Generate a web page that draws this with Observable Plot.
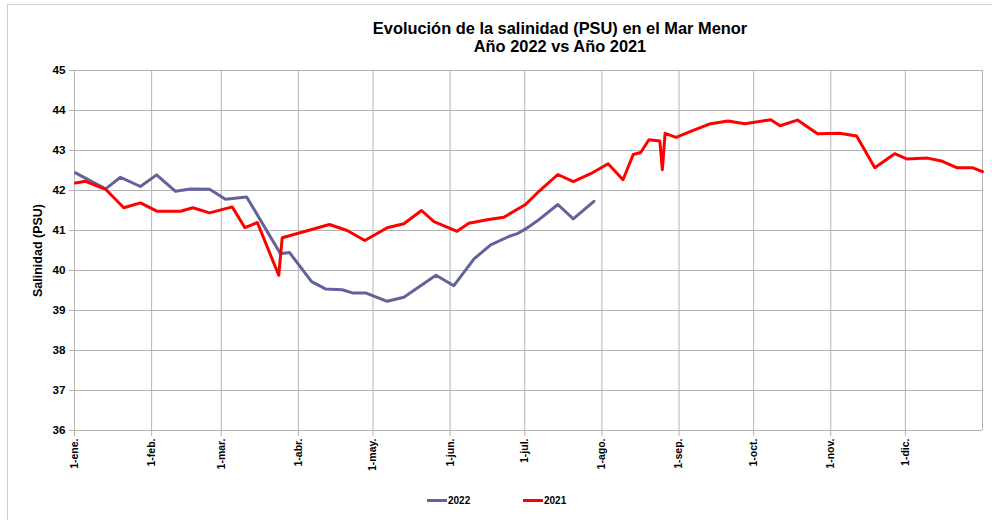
<!DOCTYPE html>
<html><head><meta charset="utf-8">
<script src="https://cdn.jsdelivr.net/npm/d3@7"></script>
<script src="https://cdn.jsdelivr.net/npm/@observablehq/plot@0.6"></script>
<style>
body{margin:0;background:#fff;font-family:"Liberation Sans",Arial,sans-serif;}
#wrap{position:relative;width:992px;height:520px;overflow:hidden;}
#frame{position:absolute;left:7px;top:4px;width:1000px;height:530px;border:1px solid #cfcfcf;box-sizing:border-box;pointer-events:none}
#title{height:62px;box-sizing:border-box;padding-top:19px;padding-left:128px;text-align:center;font-weight:bold;font-size:16.4px;line-height:18px;color:#000}
#chart svg{display:block}
.leg{position:absolute;top:493px;font-size:10px;font-weight:bold;color:#000;display:flex;align-items:center;height:14px}
.leg i{display:inline-block;width:20px;height:3px;margin-right:1px}
</style></head>
<body>
<div id="wrap">
<div id="frame"></div>
<div id="title">Evolución de la salinidad (PSU) en el Mar Menor<br>Año 2022 vs Año 2021</div>
<div id="chart"></div>
<div class="leg" style="left:427px"><i style="background:#62629c"></i>2022</div>
<div class="leg" style="left:523px"><i style="background:#ff0000"></i>2021</div>
</div>
<script>
const monthDays = [0,31,59,90,120,151,181,212,243,273,304,334];
const monthLabels = ["1-ene.","1-feb.","1-mar.","1-abr.","1-may.","1-jun.","1-jul.","1-ago.","1-sep.","1-oct.","1-nov.","1-dic."];
const yTicks = [36,37,38,39,40,41,42,43,44,45];

const days2022 = [0.4,12.5,18.5,26.5,33,40.6,46.6,54.3,60.7,69.2,82.8,86.4,95.3,100.9,107.6,111.7,117,125.7,132.4,145.3,152.5,160.6,167.3,174.6,178,181.3,186.7,194.3,200.5,208.8];
const sal2022 = [42.44,42.04,42.33,42.1,42.39,41.98,42.04,42.03,41.78,41.84,40.42,40.45,39.72,39.54,39.52,39.44,39.44,39.23,39.33,39.88,39.62,40.29,40.64,40.85,40.92,41.04,41.27,41.65,41.29,41.73];

const days2021 = [0.4,4.4,12.5,19.8,26.5,33.3,42.6,47.6,54.3,63.4,68.5,73.5,82.1,83.5,102.5,109.6,116.7,125.7,132.4,139.5,144.5,153.8,158.5,165.9,172.6,181.3,186.7,194.3,200.5,207.5,214.5,220.5,224.6,227.6,230.9,235.3,236.3,237.4,241.8,247.7,255.7,262.7,269.5,279.9,283.6,290.6,298.7,307.6,314.4,321.7,329.7,334.5,342.9,348.9,354.6,360.9,365];
const sal2021 = [42.19,42.23,42.03,41.57,41.69,41.48,41.48,41.57,41.44,41.59,41.07,41.2,39.88,40.82,41.15,41.0,40.75,41.07,41.17,41.5,41.22,40.98,41.18,41.27,41.33,41.65,41.98,42.4,42.22,42.42,42.67,42.27,42.9,42.95,43.27,43.24,42.52,43.43,43.33,43.48,43.67,43.74,43.67,43.77,43.62,43.76,43.42,43.43,43.36,42.57,42.92,42.79,42.81,42.73,42.57,42.57,42.47];

const data2022 = days2022.map((d,i)=>({day:d, v:sal2022[i]}));
const data2021 = days2021.map((d,i)=>({day:d, v:sal2021[i]}));

const chart = Plot.plot({
  width: 992, height: 418,
  marginTop: 8, marginBottom: 50, marginLeft: 74, marginRight: 10,
  style: {fontFamily: "Liberation Sans, Arial, sans-serif", fontSize: "11px", fontWeight: "bold", color: "#000", background: "transparent"},
  x: {domain: [0, 365]},
  y: {domain: [36, 45]},
  marks: [
    Plot.gridY(yTicks, {stroke: "#b4b4b4", strokeOpacity: 1}),
    Plot.gridX([...monthDays, 365], {stroke: "#b4b4b4", strokeOpacity: 1}),
    Plot.axisY(yTicks, {anchor: "left", tickSize: 5, tickPadding: 4, stroke: "#b4b4b4", fontSize: 11.7, label: null}),
    Plot.axisY({anchor: "left", ticks: [], label: "Salinidad (PSU)", labelAnchor: "center", labelArrow: "none", labelOffset: 41, fontSize: 12.5}),
    Plot.axisX(monthDays, {tickFormat: d => monthLabels[monthDays.indexOf(d)], tickRotate: -90, tickSize: 6, tickPadding: 2, stroke: "#b4b4b4", fontSize: 10.5, label: null}),
    Plot.line(data2022, {x: "day", y: "v", stroke: "#62629c", strokeWidth: 3}),
    Plot.line(data2021, {x: "day", y: "v", stroke: "#ff0000", strokeWidth: 3})
  ]
});
document.getElementById("chart").appendChild(chart);
</script>
</body></html>
